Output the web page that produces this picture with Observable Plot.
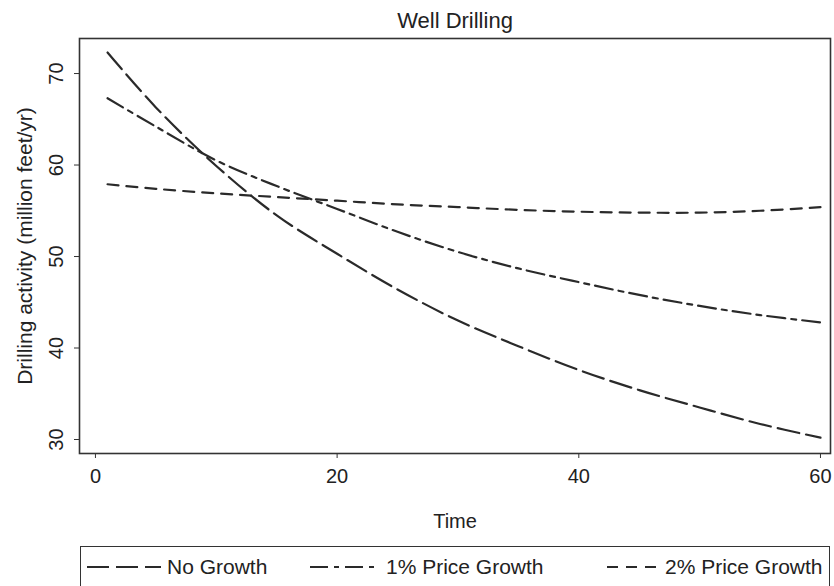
<!DOCTYPE html>
<html>
<head>
<meta charset="utf-8">
<script src="https://cdn.jsdelivr.net/npm/d3@7"></script>
<script src="https://cdn.jsdelivr.net/npm/@observablehq/plot@0.6"></script>
<style>
  html, body { margin: 0; padding: 0; background: #fff; }
  #wrap { position: relative; width: 834px; height: 586px; overflow: hidden; font-family: "Liberation Sans", Arial, sans-serif; color: #222; }
  #legend { position: absolute; left: 80px; top: 546px; width: 750px; height: 46px; border: 1.5px solid #333; box-sizing: border-box; }
  .item { position: absolute; top: 7px; height: 26px; display: flex; align-items: center; font-size: 21px; white-space: nowrap; }
  .item svg { margin-right: 6px; }
</style>
</head>
<body>
<div id="wrap"><div id="chart"></div><div id="legend"></div></div>
<script>
const title = "Well Drilling";
const xLabel = "Time";
const yLabel = "Drilling activity (million feet/yr)";
const seriesNames = ["No Growth", "1% Price Growth", "2% Price Growth"];
const time      = [1,    5,    10,   15,   20,   25,   30,   35,   40,   45,   50,   55,   60];
const noGrowth  = [72.3, 66.3, 59.9, 54.5, 50.3, 46.4, 43.0, 40.2, 37.6, 35.4, 33.5, 31.7, 30.2];
const price1    = [67.3, 64.2, 60.5, 57.7, 55.2, 52.7, 50.5, 48.7, 47.2, 45.8, 44.6, 43.6, 42.8];
const price2    = [57.9, 57.4, 56.9, 56.5, 56.1, 55.7, 55.4, 55.1, 54.9, 54.8, 54.8, 55.0, 55.4];
const xTicks = [0, 20, 40, 60];
const yTicks = [30, 40, 50, 60, 70];
const dashes = ["22,7", "18,6,5,6", "11,8"];

const values = [noGrowth, price1, price2];
const data = [];
seriesNames.forEach((s, i) => time.forEach((t, j) => data.push({series: s, time: t, value: values[i][j]})));

const font = "Liberation Sans, Arial, sans-serif";
const plot = Plot.plot({
  width: 834,
  height: 540,
  marginLeft: 79,
  marginRight: 4,
  marginTop: 38,
  marginBottom: 87,
  style: {fontFamily: font, background: "#fff", color: "#222"},
  x: {domain: [-1.32, 60.83]},
  y: {domain: [28.47, 73.83]},
  marks: [
    ...seriesNames.map((s, i) => Plot.line(data.filter(d => d.series === s), {
      x: "time", y: "value", stroke: "#2a2a2a", strokeWidth: 2.2,
      strokeDasharray: dashes[i], curve: "catmull-rom"
    })),
    Plot.frame({stroke: "#333", strokeWidth: 1.6}),
    Plot.axisX({ticks: xTicks, tickSize: 5, tickPadding: 10, fontSize: 20, label: null, stroke: "#333"}),
    Plot.axisY({ticks: yTicks, tickSize: 5, tickPadding: 12, tickRotate: -90, fontSize: 20, label: null, stroke: "#333"}),
    Plot.text([xLabel], {frameAnchor: "bottom", dy: 74, fontSize: 20, fill: "#222"}),
    Plot.text([yLabel], {frameAnchor: "left", textAnchor: "middle", dx: -54, rotate: -90, fontSize: 21, fill: "#222"}),
    Plot.text([title], {frameAnchor: "top", dy: -26, fontSize: 22, fill: "#222"})
  ]
});
document.getElementById("chart").appendChild(plot);

const legend = document.getElementById("legend");
const lefts = [6, 229, 526];
const widths = [74, 70, 52];
seriesNames.forEach((s, i) => {
  const div = document.createElement("div");
  div.className = "item";
  div.style.left = lefts[i] + "px";
  const w = widths[i];
  div.innerHTML = `<svg width="${w}" height="10"><line x1="0" y1="5" x2="${w}" y2="5" stroke="#2a2a2a" stroke-width="2" stroke-dasharray="${dashes[i]}"/></svg><span>${s}</span>`;
  legend.appendChild(div);
});
</script>
</body>
</html>
